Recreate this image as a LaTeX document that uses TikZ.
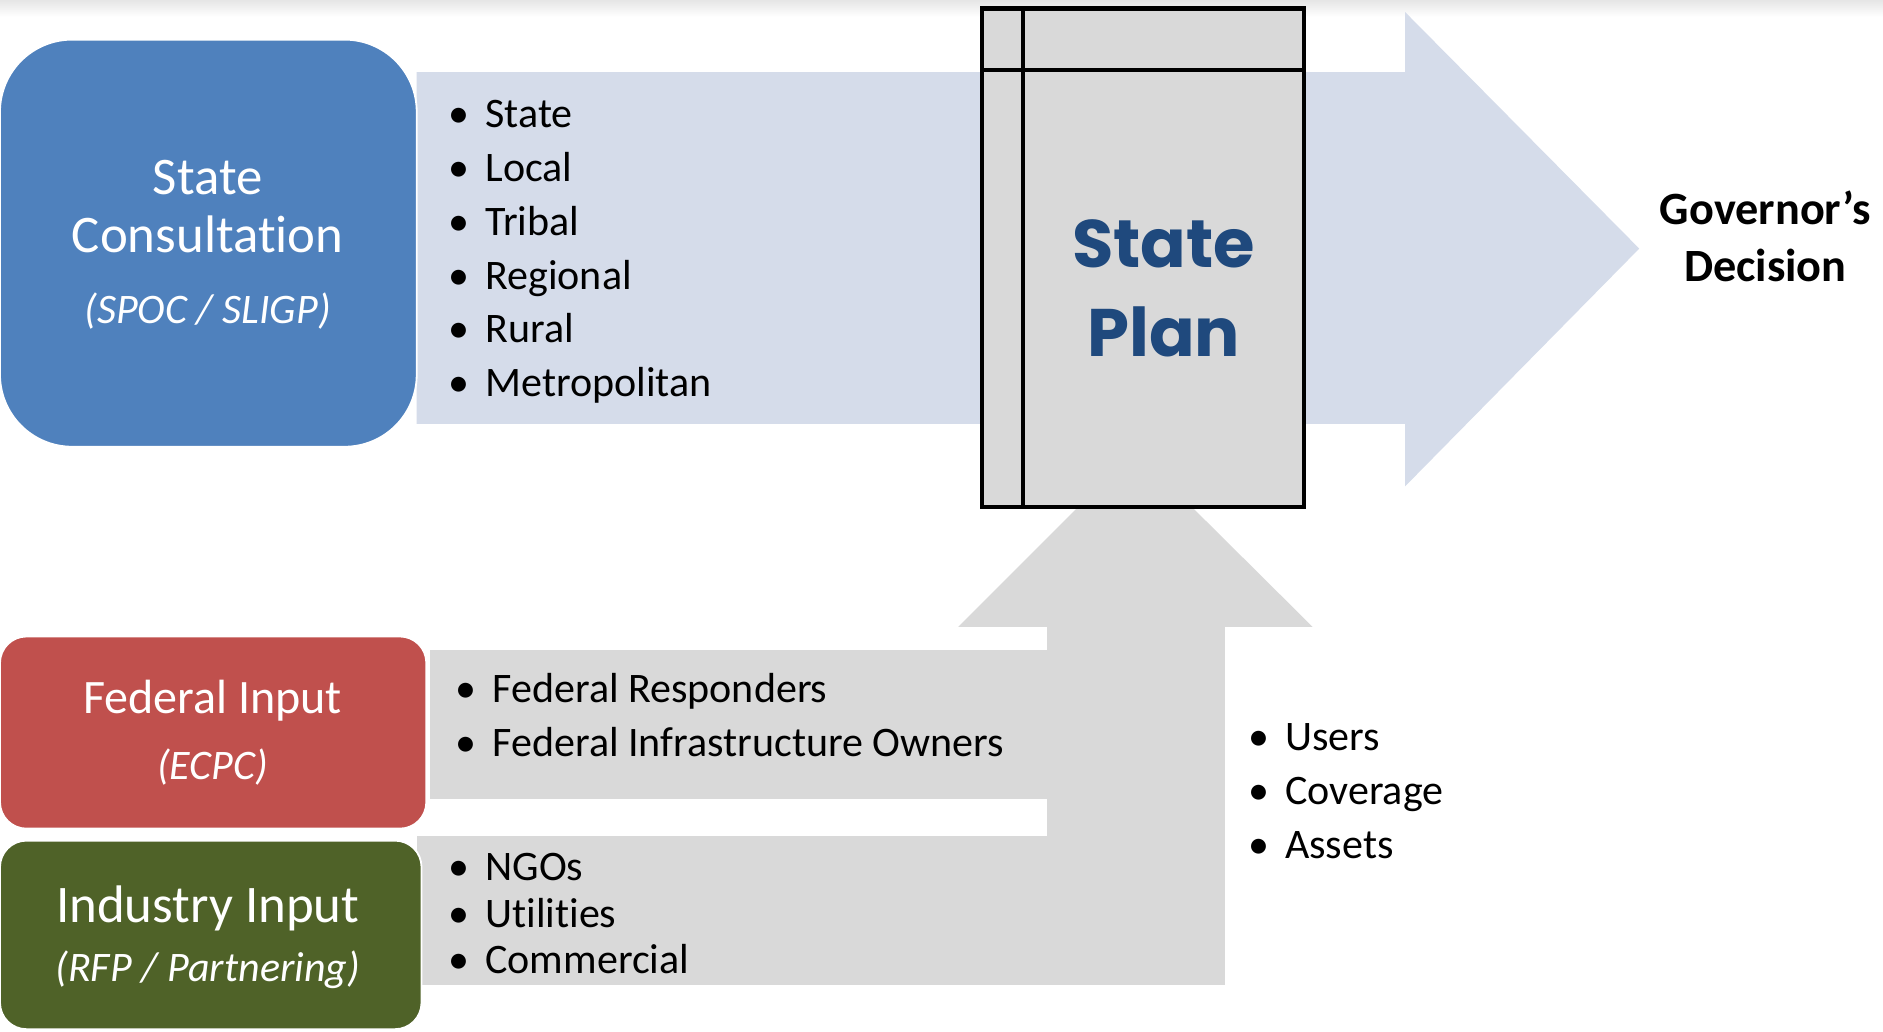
\documentclass[tikz,border=0pt]{standalone}
\usepackage{fontspec}
\setmainfont{Carlito}[Ligatures=NoCommon]
\newfontfamily\planfont{Poppins}
\definecolor{boxblue}{HTML}{4F81BD}
\definecolor{arrowblue}{RGB}{213,220,234}
\definecolor{boxred}{HTML}{C0504D}
\definecolor{boxgreen}{HTML}{4F6228}
\definecolor{plangray}{HTML}{D9D9D9}
\definecolor{plantext}{HTML}{1F497D}
\newcommand{\bul}[1]{\makebox[22pt][c]{\textbullet}\hspace{11pt}#1}
\tikzset{
  itemtxt/.style={anchor=base west, inner sep=0pt, font=\fontsize{35}{42}\selectfont, text=black},
  boxtxt/.style={anchor=base, inner sep=0pt, text=white},
  bigtxt/.style={boxtxt, font=\fontsize{44}{52}\selectfont},
  subtxt/.style={boxtxt, font=\fontsize{35}{42}\selectfont\itshape},
  rbox/.style={draw=white, line width=1.5pt},
  plantxt/.style={anchor=base, inner sep=0pt, text=plantext, font=\planfont\bfseries\fontsize{56}{64}\selectfont},
  govtxt/.style={anchor=base, inner sep=0pt, text=black, font=\bfseries\fontsize{38.5}{46}\selectfont},
}
\begin{document}
\begin{tikzpicture}[x=1pt,y=-1pt]
\useasboundingbox (0,0) rectangle (1568,859);
\fill[white] (0,0) rectangle (1568,859);
\shade[top color=black!10, bottom color=white] (0,0) rectangle (1568,14);
% big blue arrow
\fill[arrowblue] (347,60) -- (1170,60) -- (1170,10) -- (1365,207) -- (1170,405) -- (1170,353) -- (347,353) -- cycle;
% gray inputs and up arrow
\fill[plangray] (358,541) rectangle (872,665);
\fill[plangray] (347,696) rectangle (1020,820);
\fill[plangray] (872,820) -- (872,522) -- (798,522) -- (945,375) -- (1093,522) -- (1020,522) -- (1020,820) -- cycle;
% left boxes
\filldraw[fill=boxblue, rbox, rounded corners=60pt] (0,33) rectangle (347,372);
\filldraw[fill=boxred, rbox, rounded corners=22pt] (0,530) rectangle (355,690);
\filldraw[fill=boxgreen, rbox, rounded corners=22pt] (0,700) rectangle (351,857);
% state plan document
\draw[line width=3.5pt, fill=plangray] (818,7) rectangle (1086,422);
\draw[line width=3.5pt] (852,7) -- (852,422);
\draw[line width=3.5pt] (818,58) -- (1086,58);
% texts in boxes
\node[bigtxt] (sc1) at (173,162) {State};
\node[bigtxt] (sc2) at (173,210) {Consultation};
\node[subtxt] (sc3) at (173,269) {(SPOC / SLIGP)};
\node[boxtxt, font=\fontsize{40}{48}\selectfont] (fi1) at (177,594) {Federal Input};
\node[subtxt] (fi2) at (177,649) {(ECPC)};
\node[bigtxt] (ii1) at (173,768) {Industry Input};
\node[subtxt] (ii2) at (173,817) {(RFP / Partnering)};
% bullets state consultation
\node[itemtxt] (l1) at (371,106) {\bul{State}};
\node[itemtxt] (l2) at (371,151) {\bul{Local}};
\node[itemtxt] (l3) at (371,196) {\bul{Tribal}};
\node[itemtxt] (l4) at (371,241) {\bul{Regional}};
\node[itemtxt] (l5) at (371,285) {\bul{Rural}};
\node[itemtxt] (l6) at (371,330) {\bul{Metropolitan}};
% federal
\node[itemtxt] (f1) at (377,585) {\bul{Federal Responders}};
\node[itemtxt] (f2) at (377,630) {\bul{Federal Infrastructure Owners}};
% industry
\node[itemtxt] (i1) at (371,733) {\bul{NGOs}};
\node[itemtxt] (i2) at (371,772) {\bul{Utilities}};
\node[itemtxt] (i3) at (371,811) {\bul{Commercial}};
% users
\node[itemtxt] (u1) at (1037,625) {\bul{Users}};
\node[itemtxt] (u2) at (1037,670) {\bul{Coverage}};
\node[itemtxt] (u3) at (1037,715) {\bul{Assets}};
% state plan
\node[plantxt] (sp1) at (969,223) {State};
\node[plantxt] (sp2) at (969,297) {Plan};
% governor
\node[govtxt] (g1) at (1470,187) {Governor’s};
\node[govtxt] (g2) at (1470,234) {Decision};
\end{tikzpicture}
\end{document}
